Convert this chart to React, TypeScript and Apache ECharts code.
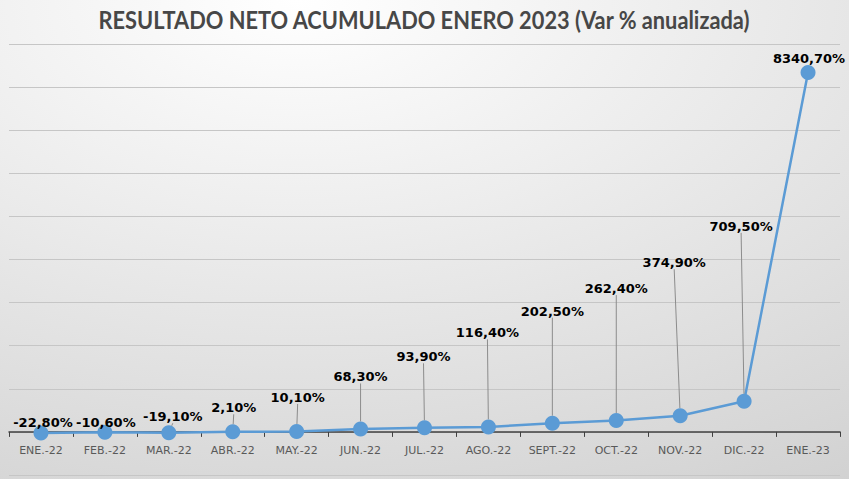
import React, { useEffect, useRef } from "react";
import * as echarts from "echarts";

const titleText = "RESULTADO NETO ACUMULADO ENERO 2023 (Var % anualizada)";
const categories = [
  "ENE.-22", "FEB.-22", "MAR.-22", "ABR.-22", "MAY.-22", "JUN.-22", "JUL.-22",
  "AGO.-22", "SEPT.-22", "OCT.-22", "NOV.-22", "DIC.-22", "ENE.-23",
];
const values = [-22.8, -10.6, -19.1, 2.1, 10.1, 68.3, 93.9, 116.4, 202.5, 262.4, 374.9, 709.5, 8340.7];
const yMin = -1000;
const yMax = 9000;
const yStep = 1000;

// label placement (pixels above / beside each marker), style only
const labelRise = [10, 10, 16, 24, 34, 52, 71, 94, 112, 132, 153, 175, 14];
const labelShift = [2, 1, 4, 1, 1, 0, -1, -1, 0, 0, -6, -3, 1];

const fmt = (v: number) => v.toFixed(2).replace(".", ",") + "%";

const TITLE_FONT = "bold 25px Lato";
const TITLE_WIDTH = 653;

function titleScale(): number {
  try {
    const c = document.createElement("canvas");
    const ctx = c.getContext("2d");
    if (!ctx) return 1;
    ctx.font = TITLE_FONT;
    const w = ctx.measureText(titleText).width;
    return w > 0 ? TITLE_WIDTH / w : 1;
  } catch (e) {
    return 1;
  }
}

export default function App() {
  const ref = useRef<HTMLDivElement>(null);
  useEffect(() => {
    if (!ref.current) return;
    const chart = echarts.init(ref.current, null, { renderer: "svg" });
    const sx = titleScale();
    chart.setOption({
      animation: false,
      graphic: [
        {
          type: "rect",
          z: -10,
          silent: true,
          shape: { x: 0, y: 0, width: 849, height: 479 },
          style: {
            fill: {
              type: "radial",
              x: 0.35,
              y: 0.0,
              r: 1.6,
              colorStops: [
                { offset: 0, color: "#ffffff" },
                { offset: 1, color: "#c2c2c2" },
              ],
            },
          },
        },
        {
          type: "text",
          x: 424,
          y: 19,
          scaleX: sx,
          scaleY: 1,
          silent: true,
          style: {
            text: titleText,
            font: TITLE_FONT,
            fill: "#474747",
            align: "center",
            verticalAlign: "middle",
          },
        },
      ],
      grid: {
        left: 9,
        right: 9,
        top: 44,
        bottom: 4,
        containLabel: false,
        outerBoundsMode: "none",
      },
      xAxis: {
        type: "category",
        data: categories,
        boundaryGap: true,
        axisLine: { onZero: true, lineStyle: { color: "#404040", width: 1.5 } },
        axisTick: { show: true, length: 5, lineStyle: { color: "#404040", width: 1 } },
        axisLabel: {
          color: "#595959",
          fontFamily: "DejaVu Sans",
          fontSize: 11,
          margin: -30,
        },
      },
      yAxis: {
        type: "value",
        min: yMin,
        max: yMax,
        interval: yStep,
        axisLabel: { show: false },
        axisLine: { show: false },
        axisTick: { show: false },
        splitLine: { lineStyle: { color: "#c6c6c6", width: 1 } },
      },
      series: [
        {
          type: "line",
          data: values,
          symbol: "circle",
          symbolSize: 15,
          lineStyle: { color: "#5b9bd5", width: 2.5 },
          itemStyle: { color: "#5b9bd5" },
          label: {
            show: true,
            position: "top",
            formatter: (p: any) => fmt(p.value),
            fontFamily: "DejaVu Sans",
            fontWeight: "bold",
            fontSize: 13,
            color: "#000000",
          },
          labelLine: {
            show: true,
            lineStyle: { color: "#8c8c8c", width: 1 },
          },
          labelLayout: (params: any) => {
            const i = params.dataIndex;
            const r = params.rect;
            return {
              x: r.x + r.width / 2 + labelShift[i],
              y: r.y + r.height / 2 - labelRise[i],
              align: "center",
              verticalAlign: "middle",
            };
          },
        },
      ],
    });
    return () => chart.dispose();
  }, []);
  return (
    <div
      ref={ref}
      style={{ position: "absolute", left: 0, top: 0, width: 849, height: 479 }}
    />
  );
}
